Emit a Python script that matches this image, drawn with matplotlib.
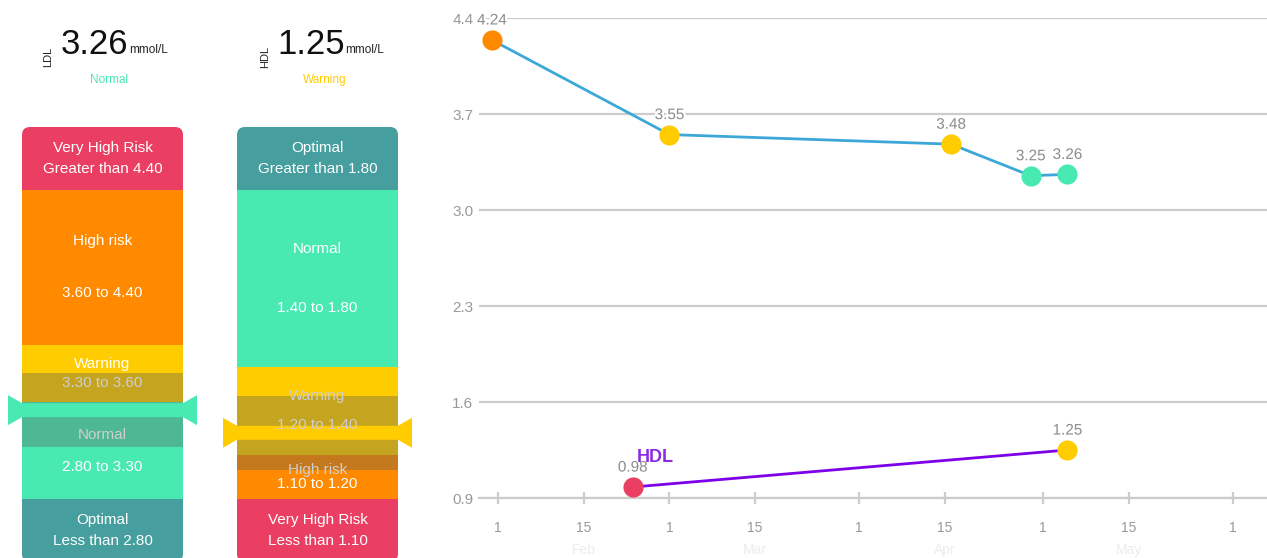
import numpy as np
import matplotlib
matplotlib.use('Agg')
import matplotlib.pyplot as plt
import matplotlib.dates as mdates
import matplotlib.patheffects as pe
from matplotlib.patches import Rectangle, FancyBboxPatch, Polygon
from matplotlib.transforms import blended_transform_factory

plt.rcParams['font.family'] = ['Liberation Sans', 'DejaVu Sans']

# --- data ---
ldl_dates = ['2018-01-31', '2018-03-01', '2018-04-16', '2018-04-29', '2018-05-05']
ldl_values = [4.24, 3.55, 3.48, 3.25, 3.26]
hdl_dates = ['2018-02-23', '2018-05-05']
hdl_values = [0.98, 1.25]

RED, ORANGE, YELLOW, GREEN, TEAL = '#ea3f62', '#ff8a00', '#ffcc00', '#48eab2', '#469e9e'

ldl_bounds = [2.80, 3.30, 3.60, 4.40]
ldl_colors = [TEAL, GREEN, YELLOW, ORANGE, RED]
ldl_names = ['Optimal', 'Normal', 'Warning', 'High risk', 'Very High Risk']
ldl_ranges = ['Less than 2.80', '2.80 to 3.30', '3.30 to 3.60', '3.60 to 4.40', 'Greater than 4.40']

hdl_bounds = [1.10, 1.20, 1.40, 1.80]
hdl_colors = [RED, ORANGE, YELLOW, GREEN, TEAL]
hdl_names = ['Very High Risk', 'High risk', 'Warning', 'Normal', 'Optimal']
hdl_ranges = ['Less than 1.10', '1.10 to 1.20', '1.20 to 1.40', '1.40 to 1.80', 'Greater than 1.80']

month_names = ['Feb', 'Mar', 'Apr', 'May']
y_ticks = [0.9, 1.6, 2.3, 3.0, 3.7, 4.4]

W, H = 1267, 558
fig = plt.figure(figsize=(W / 100, H / 100), dpi=100)


def zone_color(v, bounds, colors):
    return colors[int(np.searchsorted(bounds, v))]


def gauge(x0, bounds, colors, names, ranges, value):
    top, height, width, cap, wing = 127, 435, 161, 63, 14
    ppu = (height - 2 * cap) / (bounds[-1] - bounds[0])
    edges = [bounds[0] - cap / ppu] + list(bounds) + [bounds[-1] + cap / ppu]
    ax = fig.add_axes([(x0 - wing - 2) / W, (H - top - height) / H,
                       (width + 2 * wing + 4) / W, height / H])
    ax.set_xlim(-(wing + 2) / width, 1 + (wing + 2) / width)
    ax.set_ylim(edges[0], edges[-1])
    ax.axis('off')
    box = FancyBboxPatch((0, edges[0]), 1, edges[-1] - edges[0],
                         boxstyle='round,pad=0,rounding_size=%f' % (8 / width),
                         mutation_aspect=width / ppu, fc='none', ec='none')
    ax.add_patch(box)
    for i in range(len(colors)):
        r = Rectangle((0, edges[i]), 1, edges[i + 1] - edges[i], fc=colors[i], ec='none', zorder=1)
        ax.add_patch(r)
        r.set_clip_path(box)
    half = 37 / ppu
    ov = Rectangle((0, value - half), 1, 2 * half, fc='#5a5a5a', alpha=0.35, ec='none', zorder=2)
    ax.add_patch(ov)
    ov.set_clip_path(box)
    b, w2, wx = 7 / ppu, 15 / ppu, wing / width
    pts = [(-wx, value + w2), (0, value + b), (1, value + b), (1 + wx, value + w2),
           (1 + wx, value - w2), (1, value - b), (0, value - b), (-wx, value - w2)]
    ax.add_patch(Polygon(pts, closed=True, fc=zone_color(value, bounds, colors), ec='none', zorder=3))
    for i in range(len(names)):
        h = edges[i + 1] - edges[i]
        for txt, y in [(names[i], edges[i + 1] - h / 3), (ranges[i], edges[i + 1] - 2 * h / 3)]:
            c = '#cfcfcf' if abs(y - value) < half + 1 / ppu else 'white'
            ax.text(0.5, y, txt, ha='center', va='center', color=c, fontsize=11, zorder=4)


def header(x_lab, x_num, name, value, status, scolor):
    fig.text(x_lab / W, 1 - 57 / H, name, rotation=90, ha='center', va='center', fontsize=8, color='#222222')
    t = fig.text(x_num / W, 1 - 54 / H, '%.2f' % value, ha='left', va='baseline', fontsize=25, color='#111111')
    fig.canvas.draw()
    bb = t.get_window_extent()
    fig.text(bb.x1 / W + 1 / W, 1 - 53 / H, 'mmol/L', ha='left', va='baseline', fontsize=8.5, color='#222222')
    fig.text((x_num + 48) / W, 1 - 80 / H, status, ha='center', va='center', fontsize=8.5, color=scolor)


header(48, 61, 'LDL', ldl_values[-1], 'Normal', GREEN)
header(265, 277, 'HDL', hdl_values[-1], 'Warning', YELLOW)
gauge(22, ldl_bounds, ldl_colors, ldl_names, ldl_ranges, ldl_values[-1])
gauge(237, hdl_bounds, hdl_colors, hdl_names, hdl_ranges, hdl_values[-1])

# --- trend chart ---
ax = fig.add_axes([479 / W, 60 / H, (W - 479) / W, 480 / H])
feb1 = mdates.datestr2num('2018-02-01')
ax.set_xlim(feb1 - 3.1, feb1 + 125.6)
ax.set_ylim(0.9, 4.4)
for s in ['top', 'left', 'right']:
    ax.spines[s].set_visible(False)
ax.spines['bottom'].set_color('#cccccc')
ax.spines['bottom'].set_linewidth(1.6)
ax.set_yticks(y_ticks)
ax.set_yticklabels(['%.1f' % v for v in y_ticks])
ax.yaxis.grid(True, color='#cccccc', lw=1.6)
ax.set_axisbelow(True)
ax.tick_params(axis='y', length=0, pad=4, labelcolor='#999999', labelsize=11)
ax.xaxis.set_major_locator(mdates.DayLocator(bymonthday=[1, 15]))
ax.xaxis.set_major_formatter(plt.FuncFormatter(lambda x, _: str(mdates.num2date(x).day)))
ax.tick_params(axis='x', direction='inout', length=9, width=1.6, color='#cccccc',
               pad=12, labelcolor='#999999', labelsize=10)

trans = blended_transform_factory(ax.transData, ax.transAxes)
for i, m in enumerate(month_names):
    d = mdates.datestr2num('2018-%02d-15' % (i + 2))
    ax.text(d, -0.108, m, transform=trans, ha='center', va='center', fontsize=10, color='#ececec')

halo = [pe.withStroke(linewidth=3, foreground='white')]
series = [(ldl_dates, ldl_values, ldl_bounds, ldl_colors, '#3da8d8'),
          (hdl_dates, hdl_values, hdl_bounds, hdl_colors, '#7d00e8')]
for dates, vals, bounds, colors, lc in series:
    x = [mdates.datestr2num(d) for d in dates]
    ax.plot(x, vals, color=lc, lw=2, zorder=3, clip_on=False)
    for xi, v in zip(x, vals):
        ax.plot(xi, v, 'o', ms=14.5, mec='none', color=zone_color(v, bounds, colors), zorder=4, clip_on=False)
        ax.annotate('%.2f' % v, (xi, v), xytext=(0, 14), textcoords='offset points', ha='center',
                    va='center', fontsize=11, color='#8c8c8c', path_effects=halo, zorder=2,
                    annotation_clip=False)

hx = mdates.datestr2num(hdl_dates[0])
ax.annotate('HDL', (hx, hdl_values[0]), xytext=(16, 21), textcoords='offset points', ha='center',
            va='center', fontsize=13, fontweight='bold', color='#8a2be2', zorder=5)

fig.savefig('out.png', dpi=100)
